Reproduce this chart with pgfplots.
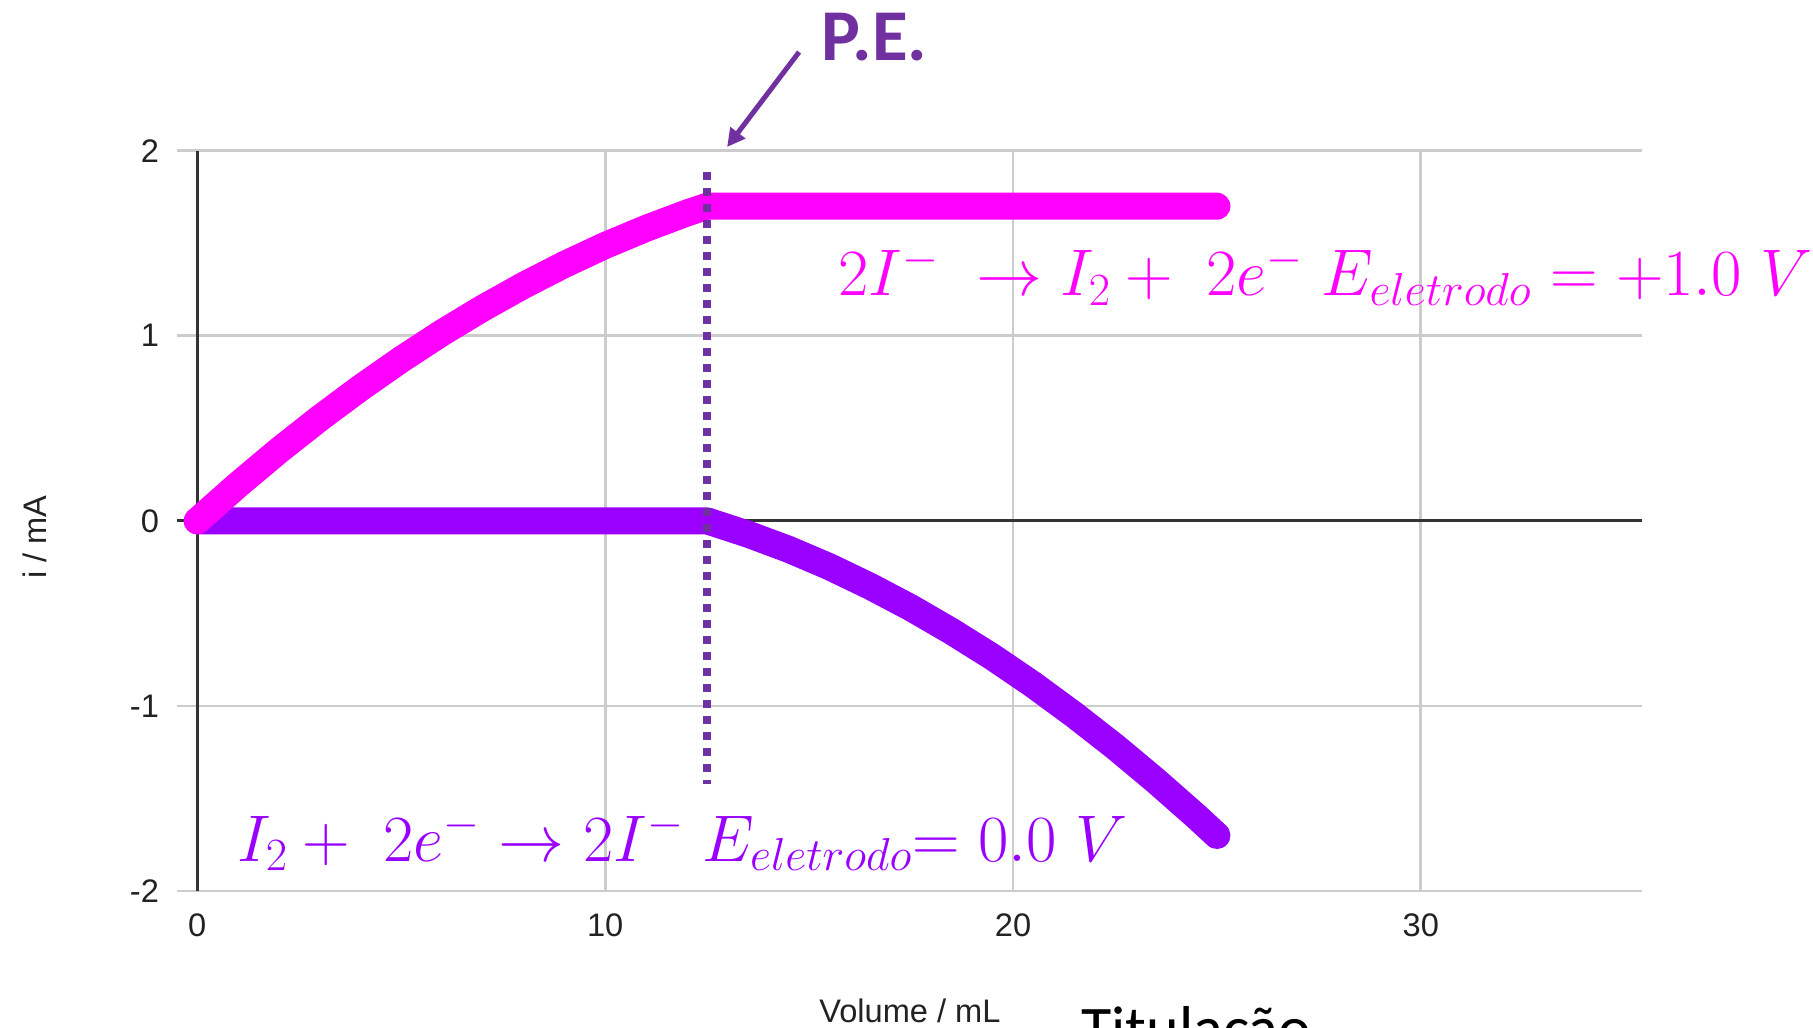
\RequirePackage{fix-cm}
\documentclass[border=0pt]{standalone}
\usepackage[no-math]{fontspec}
\setmainfont{Liberation Sans}
\newfontfamily\calibri{Carlito}
\usepackage{pgfplots}
\pgfplotsset{compat=1.18}
\usetikzlibrary{arrows.meta}

\definecolor{pinkline}{HTML}{FF00FF}
\definecolor{violetline}{HTML}{9900FF}
\definecolor{pemark}{HTML}{7030A0}
\definecolor{gridgray}{HTML}{CCCCCC}
\definecolor{axisdark}{HTML}{333333}
\definecolor{ticktext}{HTML}{222222}

\begin{document}
\begin{tikzpicture}
\useasboundingbox (0,0) rectangle (906.5pt,513.5pt);
\clip (0,0) rectangle (906.5pt,513.5pt);
\begin{axis}[
  at={(88.65pt,68pt)}, anchor=south west,
  scale only axis, width=732.5pt, height=370.15pt,
  xmin=-0.4904, xmax=35.43, ymin=-2, ymax=2,
  axis line style={draw=none},
  xtick={10,20,30}, ytick={-2,-1,1,2},
  extra x ticks={0}, extra y ticks={0},
  extra tick style={grid style={axisdark, line width=1.4pt}},
  xmajorgrids, ymajorgrids,
  grid style={gridgray, line width=1.4pt},
  major tick length=0pt,
  tick style={draw=none},
  /pgf/number format/assume math mode=true,
  tick label style={font=\fontsize{16.3}{18}\selectfont, text=ticktext, inner sep=0pt},
  yticklabel style={anchor=east, xshift=-9pt},
  xticklabel style={anchor=north, yshift=-11pt},
  xlabel={Volume / mL},
  ylabel={i / mA},
  label style={font=\fontsize{16.3}{18}\selectfont, text=ticktext, inner sep=0pt},
  xlabel style={at={(axis description cs:0.5001,-0.177)}, anchor=base},
  ylabel style={at={(axis description cs:-0.0896,0.478)}, rotate=0, anchor=base},
  clip=false,
]
% reduction of iodine: no current before the end point
\addplot[violetline, line width=13.5pt, line cap=round, line join=round] coordinates {
  (0,0) (12.5,0) (13.5,-0.072) (14.5,-0.154) (15.5,-0.248) (16.5,-0.354)
  (17.5,-0.470) (18.5,-0.598) (19.5,-0.736) (20.5,-0.886) (21.5,-1.048)
  (22.5,-1.220) (23.5,-1.404) (24.5,-1.598) (25,-1.700)
};
% oxidation of iodide: current grows until the end point
\addplot[pinkline, line width=13.5pt, line cap=round, line join=round] coordinates {
  (0,0) (1,0.195) (2,0.380) (3,0.554) (4,0.718) (5,0.872) (6,1.016)
  (7,1.149) (8,1.272) (9,1.385) (10,1.488) (11,1.580) (12,1.663)
  (12.5,1.700) (25,1.700)
};
% end point
\addplot[pemark, line width=4pt, dash pattern=on 4pt off 4pt] coordinates {
  (12.5,1.885) (12.5,-1.420)
};
\draw[pemark, line width=2.5pt, -{Triangle[length=9pt,width=9pt]}]
  (axis cs:14.755,2.533) -- (axis cs:12.99,2.02);
\node[anchor=base west, inner sep=0pt, text=pemark,
      font=\calibri\bfseries\fontsize{36.5}{36.5}\selectfont]
  at (axis cs:15.30,2.49) {P.E.};
\node[anchor=base west, inner sep=0pt, text=pinkline, font=\fontsize{33}{33}\selectfont]
  at (axis cs:15.71,1.215) {$2I^{-}\ \to I_{2} +\ 2e^{-}\ E_{eletrodo} = +1.0\ V$};
\node[anchor=base west, inner sep=0pt, text=violetline, font=\fontsize{33}{33}\selectfont]
  at (axis cs:0.973,-1.838) {$I_{2} +\ 2e^{-} \to 2I^{-}\ E_{eletrodo}{=}\ 0.0\ V$};
\end{axis}
\node[anchor=base west, inner sep=0pt, font=\calibri\fontsize{31}{31}\selectfont]
  at (540.5pt,-11pt) {Titulação};
\end{tikzpicture}
\end{document}
